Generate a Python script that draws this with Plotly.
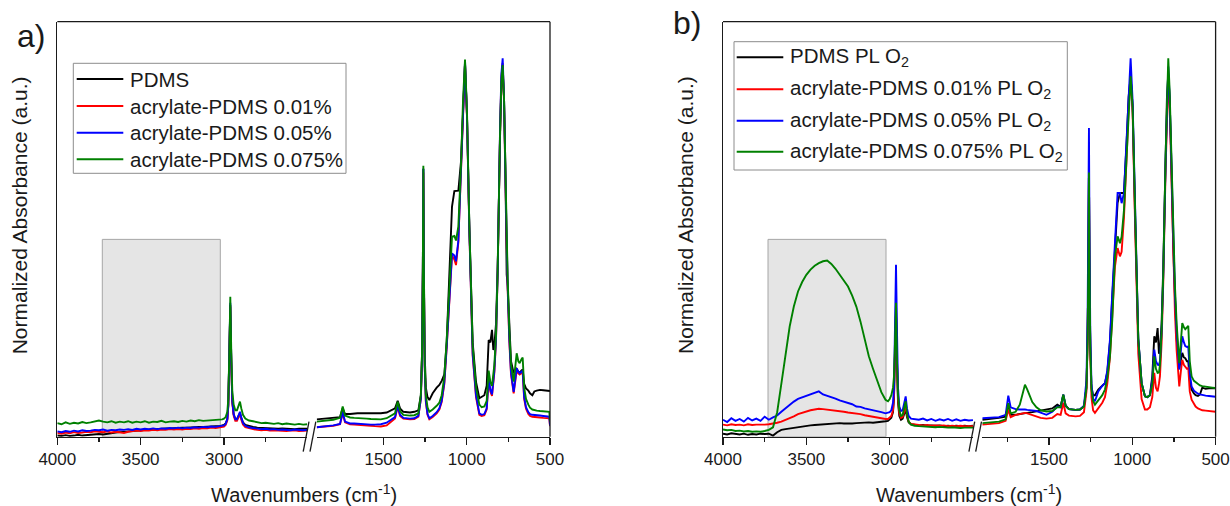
import plotly.graph_objects as go

# the page margin is removed by the post script below, so page pixels == figure pixels
OFF = 0
W, H = 1230, 506

# ---------------- data ----------------
X_LEFT = [4000, 3975, 3950, 3925, 3900, 3875, 3850, 3825, 3800, 3775,
          3750, 3725, 3700, 3675, 3650, 3625, 3600, 3575, 3550, 3525,
          3500, 3475, 3450, 3425, 3400, 3375, 3350, 3325, 3300, 3275,
          3250, 3225, 3200, 3175, 3150, 3125, 3100, 3075, 3050, 3025,
          3010, 3000, 2990, 2980, 2974, 2968, 2962, 2956, 2950, 2942,
          2932, 2922, 2912, 2904, 2896, 2886, 2872, 2850,
          2825, 2800, 2775, 2750, 2725, 2700, 2675, 2650, 2625, 2600, 2575, 2550, 2525, 2500]

X_RIGHT = [1900, 1850, 1800, 1760, 1744, 1730, 1700, 1675, 1655, 1644,
           1630, 1600, 1575, 1550, 1515, 1480, 1450, 1430, 1414, 1400,
           1380, 1340, 1314, 1290, 1275, 1268, 1263, 1260, 1257, 1252,
           1245, 1235, 1224, 1204, 1180, 1164, 1150, 1134, 1120, 1104,
           1088, 1074, 1064, 1050, 1034, 1022, 1010, 998, 984, 964,
           944, 924, 910, 894, 880, 868, 858, 848, 840, 834,
           824, 814, 800, 792, 784, 776, 768, 760, 754, 744,
           734, 718, 708, 700, 690, 682, 672, 664, 655, 644,
           630, 620, 606, 594, 580, 560, 540, 520, 504, 500]

# ---- panel a) ----
A_PDMS_L = [0.003, 0.002, 0.004, 0.002, 0.003, 0.005, 0.003, 0.004, 0.006, 0.005,
            0.007, 0.006, 0.008, 0.010, 0.011, 0.012, 0.013, 0.015, 0.014, 0.016,
            0.017, 0.018, 0.019, 0.020, 0.020, 0.021, 0.022, 0.022, 0.023, 0.023,
            0.024, 0.024, 0.025, 0.025, 0.026, 0.026, 0.027, 0.027, 0.028, 0.028,
            0.029, 0.031, 0.035, 0.047, 0.085, 0.200, 0.350, 0.200, 0.095, 0.060,
            0.047, 0.047, 0.058, 0.062, 0.050, 0.038, 0.031, 0.028,
            0.026, 0.024, 0.023, 0.023, 0.022, 0.022, 0.021, 0.022, 0.021, 0.021, 0.020, 0.021, 0.020, 0.021]
A_001_L = [0.010, 0.008, 0.011, 0.009, 0.012, 0.010, 0.011, 0.013, 0.012, 0.014,
           0.013, 0.012, 0.014, 0.011, 0.013, 0.012, 0.010, 0.013, 0.014, 0.016,
           0.015, 0.017, 0.016, 0.018, 0.017, 0.019, 0.018, 0.020, 0.019, 0.020,
           0.019, 0.021, 0.020, 0.022, 0.021, 0.023, 0.022, 0.024, 0.023, 0.025,
           0.025, 0.027, 0.031, 0.043, 0.080, 0.190, 0.345, 0.190, 0.090, 0.056,
           0.042, 0.042, 0.055, 0.060, 0.045, 0.032, 0.025, 0.022,
           0.020, 0.018, 0.017, 0.018, 0.016, 0.017, 0.016, 0.017, 0.015, 0.016, 0.017, 0.015, 0.016, 0.016]
A_005_L = [0.014, 0.012, 0.015, 0.013, 0.016, 0.014, 0.017, 0.015, 0.016, 0.018,
           0.017, 0.019, 0.016, 0.018, 0.017, 0.019, 0.018, 0.020, 0.018, 0.021,
           0.019, 0.021, 0.020, 0.022, 0.020, 0.022, 0.021, 0.023, 0.022, 0.024,
           0.022, 0.024, 0.023, 0.025, 0.024, 0.026, 0.025, 0.027, 0.026, 0.028,
           0.028, 0.030, 0.034, 0.046, 0.085, 0.200, 0.355, 0.200, 0.095, 0.060,
           0.046, 0.046, 0.060, 0.066, 0.050, 0.036, 0.029, 0.025,
           0.023, 0.021, 0.020, 0.021, 0.019, 0.020, 0.018, 0.019, 0.018, 0.017, 0.019, 0.018, 0.017, 0.018]
A_0075_L = [0.036, 0.033, 0.038, 0.034, 0.037, 0.035, 0.039, 0.036, 0.038, 0.041,
            0.043, 0.040, 0.038, 0.041, 0.037, 0.040, 0.038, 0.041, 0.037, 0.040,
            0.038, 0.041, 0.037, 0.040, 0.039, 0.042, 0.038, 0.040, 0.041, 0.039,
            0.042, 0.040, 0.043, 0.041, 0.044, 0.042, 0.043, 0.045, 0.044, 0.046,
            0.046, 0.048, 0.052, 0.065, 0.100, 0.220, 0.371, 0.220, 0.120, 0.085,
            0.070, 0.070, 0.085, 0.093, 0.075, 0.058, 0.048, 0.043,
            0.041, 0.038, 0.036, 0.037, 0.035, 0.034, 0.036, 0.033, 0.035, 0.034, 0.032, 0.034, 0.032, 0.033]

A_PDMS_R = [0.046, 0.048, 0.050, 0.052, 0.075, 0.060, 0.060, 0.062, 0.062, 0.062,
            0.062, 0.062, 0.061, 0.062, 0.062, 0.064, 0.070, 0.075, 0.095, 0.075,
            0.066, 0.064, 0.066, 0.070, 0.110, 0.220, 0.450, 0.710, 0.460, 0.220,
            0.130, 0.105, 0.097, 0.115, 0.130, 0.137, 0.148, 0.165, 0.250, 0.430,
            0.610, 0.651, 0.651, 0.652, 0.730, 0.880, 0.990, 0.850, 0.560, 0.250,
            0.145, 0.102, 0.105, 0.110, 0.135, 0.256, 0.250, 0.283, 0.230, 0.240,
            0.300, 0.450, 0.790, 0.930, 0.970, 0.900, 0.720, 0.430, 0.400, 0.280,
            0.200, 0.168, 0.175, 0.180, 0.172, 0.170, 0.175, 0.178, 0.140, 0.128,
            0.122, 0.115, 0.110, 0.120, 0.122, 0.124, 0.123, 0.123, 0.122, 0.121]
A_001_R = [0.025, 0.026, 0.029, 0.033, 0.062, 0.038, 0.033, 0.032, 0.031, 0.031,
           0.030, 0.030, 0.029, 0.028, 0.027, 0.030, 0.040, 0.048, 0.080, 0.055,
           0.048, 0.046, 0.047, 0.053, 0.100, 0.210, 0.440, 0.700, 0.440, 0.190,
           0.092, 0.058, 0.046, 0.052, 0.062, 0.072, 0.092, 0.140, 0.235, 0.375,
           0.480, 0.470, 0.455, 0.515, 0.705, 0.875, 0.990, 0.845, 0.545, 0.215,
           0.105, 0.058, 0.055, 0.057, 0.072, 0.150, 0.120, 0.108, 0.135, 0.170,
           0.255, 0.435, 0.800, 0.950, 0.990, 0.890, 0.690, 0.490, 0.390, 0.250,
           0.165, 0.115, 0.155, 0.175, 0.168, 0.165, 0.168, 0.170, 0.100, 0.074,
           0.060, 0.055, 0.053, 0.052, 0.051, 0.051, 0.050, 0.050, 0.049, 0.028]
A_005_R = [0.025, 0.027, 0.030, 0.034, 0.066, 0.040, 0.035, 0.035, 0.034, 0.034,
           0.033, 0.033, 0.032, 0.032, 0.033, 0.037, 0.045, 0.052, 0.082, 0.058,
           0.050, 0.048, 0.049, 0.055, 0.100, 0.210, 0.440, 0.710, 0.440, 0.190,
           0.095, 0.060, 0.049, 0.055, 0.065, 0.075, 0.095, 0.145, 0.240, 0.380,
           0.486, 0.480, 0.465, 0.520, 0.710, 0.880, 0.995, 0.850, 0.550, 0.220,
           0.110, 0.062, 0.058, 0.060, 0.075, 0.155, 0.125, 0.112, 0.140, 0.175,
           0.260, 0.440, 0.810, 0.960, 1.003, 0.900, 0.700, 0.500, 0.400, 0.260,
           0.170, 0.119, 0.160, 0.181, 0.172, 0.168, 0.172, 0.175, 0.105, 0.078,
           0.065, 0.060, 0.058, 0.057, 0.056, 0.056, 0.055, 0.054, 0.053, 0.030]
A_0075_R = [0.040, 0.042, 0.045, 0.050, 0.080, 0.056, 0.051, 0.050, 0.050, 0.050,
            0.049, 0.048, 0.047, 0.046, 0.046, 0.049, 0.056, 0.062, 0.093, 0.068,
            0.058, 0.056, 0.057, 0.062, 0.110, 0.220, 0.450, 0.718, 0.450, 0.200,
            0.110, 0.078, 0.066, 0.072, 0.082, 0.090, 0.110, 0.160, 0.256, 0.400,
            0.530, 0.532, 0.520, 0.557, 0.720, 0.890, 1.000, 0.860, 0.560, 0.240,
            0.130, 0.085, 0.078, 0.080, 0.095, 0.175, 0.145, 0.135, 0.160, 0.190,
            0.270, 0.440, 0.800, 0.940, 0.985, 0.900, 0.720, 0.520, 0.420, 0.280,
            0.190, 0.146, 0.190, 0.221, 0.200, 0.195, 0.205, 0.210, 0.130, 0.100,
            0.085, 0.077, 0.072, 0.070, 0.069, 0.068, 0.067, 0.066, 0.066, 0.040]

# ---- panel b) ----
B_PDMS_L = [0.008, 0.006, 0.009, 0.007, 0.006, 0.008, 0.005, 0.007, 0.006, 0.008,
            0.007, 0.008, 0.003, 0.012, 0.018, 0.020, 0.022, 0.024, 0.026, 0.027,
            0.028, 0.030, 0.031, 0.032, 0.033, 0.034, 0.035, 0.036, 0.036, 0.035,
            0.034, 0.035, 0.036, 0.037, 0.037, 0.038, 0.037, 0.039, 0.040, 0.041,
            0.042, 0.045, 0.050, 0.065, 0.100, 0.220, 0.330, 0.190, 0.090, 0.055,
            0.045, 0.048, 0.065, 0.072, 0.052, 0.038, 0.033, 0.031,
            0.030, 0.031, 0.029, 0.030, 0.029, 0.030, 0.028, 0.029, 0.028, 0.029, 0.028, 0.029, 0.028, 0.029]
B_001_L = [0.032, 0.030, 0.033, 0.031, 0.032, 0.030, 0.033, 0.031, 0.032, 0.031,
           0.032, 0.033, 0.034, 0.037, 0.040, 0.044, 0.048, 0.054, 0.060, 0.064,
           0.067, 0.070, 0.072, 0.074, 0.073, 0.072, 0.070, 0.069, 0.068, 0.066,
           0.064, 0.063, 0.062, 0.060, 0.057, 0.055, 0.053, 0.050, 0.048, 0.047,
           0.047, 0.050, 0.055, 0.070, 0.110, 0.230, 0.340, 0.200, 0.100, 0.062,
           0.050, 0.052, 0.070, 0.080, 0.058, 0.040, 0.034, 0.032,
           0.031, 0.030, 0.031, 0.029, 0.030, 0.029, 0.030, 0.028, 0.029, 0.028, 0.029, 0.028, 0.027, 0.028]
B_005_L = [0.045, 0.039, 0.049, 0.042, 0.047, 0.040, 0.050, 0.043, 0.048, 0.042,
           0.053, 0.045, 0.051, 0.056, 0.066, 0.075, 0.085, 0.093, 0.100, 0.104,
           0.110, 0.114, 0.116, 0.120, 0.112, 0.109, 0.104, 0.101, 0.096, 0.093,
           0.088, 0.086, 0.080, 0.079, 0.075, 0.073, 0.070, 0.067, 0.065, 0.062,
           0.063, 0.065, 0.070, 0.090, 0.130, 0.300, 0.456, 0.280, 0.130, 0.080,
           0.068, 0.070, 0.090, 0.107, 0.075, 0.055, 0.048, 0.046,
           0.045, 0.048, 0.043, 0.047, 0.042, 0.046, 0.043, 0.047, 0.042, 0.046, 0.042, 0.045, 0.043, 0.044]
B_0075_L = [0.019, 0.017, 0.018, 0.015, 0.016, 0.014, 0.015, 0.013, 0.014, 0.013,
            0.015, 0.018, 0.025, 0.065, 0.140, 0.220, 0.292, 0.345, 0.385, 0.410,
            0.429, 0.443, 0.453, 0.460, 0.465, 0.467, 0.458, 0.445, 0.430, 0.416,
            0.398, 0.374, 0.345, 0.305, 0.262, 0.213, 0.180, 0.148, 0.118, 0.098,
            0.094, 0.100, 0.110, 0.130, 0.160, 0.250, 0.355, 0.200, 0.110, 0.070,
            0.055, 0.058, 0.080, 0.094, 0.060, 0.040, 0.032, 0.029,
            0.028, 0.027, 0.026, 0.027, 0.025, 0.026, 0.025, 0.024, 0.025, 0.024, 0.023, 0.024, 0.023, 0.024]

B_PDMS_R = [0.045, 0.047, 0.050, 0.053, 0.085, 0.058, 0.058, 0.060, 0.062, 0.062,
            0.063, 0.065, 0.067, 0.070, 0.072, 0.075, 0.085, 0.080, 0.111, 0.082,
            0.073, 0.071, 0.072, 0.080, 0.130, 0.260, 0.480, 0.700, 0.470, 0.240,
            0.130, 0.110, 0.110, 0.125, 0.135, 0.142, 0.170, 0.250, 0.370, 0.500,
            0.620, 0.646, 0.646, 0.646, 0.780, 0.900, 0.955, 0.875, 0.600, 0.260,
            0.142, 0.107, 0.105, 0.110, 0.160, 0.266, 0.250, 0.288, 0.220, 0.230,
            0.300, 0.450, 0.740, 0.900, 0.960, 0.900, 0.770, 0.600, 0.500, 0.370,
            0.260, 0.182, 0.200, 0.222, 0.210, 0.208, 0.200, 0.200, 0.150, 0.125,
            0.115, 0.110, 0.108, 0.112, 0.130, 0.127, 0.128, 0.129, 0.129, 0.128]
B_001_R = [0.032, 0.033, 0.036, 0.042, 0.072, 0.052, 0.058, 0.060, 0.062, 0.063,
           0.062, 0.058, 0.053, 0.050, 0.048, 0.050, 0.060, 0.058, 0.090, 0.062,
           0.056, 0.054, 0.055, 0.065, 0.120, 0.260, 0.480, 0.700, 0.460, 0.220,
           0.105, 0.070, 0.063, 0.075, 0.090, 0.105, 0.140, 0.210, 0.320, 0.451,
           0.500, 0.478, 0.490, 0.580, 0.740, 0.870, 0.950, 0.860, 0.580, 0.220,
           0.100, 0.072, 0.072, 0.078, 0.105, 0.169, 0.130, 0.120, 0.140, 0.160,
           0.250, 0.410, 0.710, 0.870, 0.950, 0.880, 0.740, 0.570, 0.460, 0.330,
           0.230, 0.133, 0.175, 0.204, 0.190, 0.185, 0.180, 0.182, 0.120, 0.098,
           0.085, 0.080, 0.075, 0.072, 0.070, 0.069, 0.068, 0.067, 0.067, 0.066]
B_005_R = [0.049, 0.050, 0.052, 0.058, 0.109, 0.078, 0.073, 0.072, 0.073, 0.072,
           0.071, 0.070, 0.068, 0.064, 0.058, 0.066, 0.080, 0.078, 0.111, 0.082,
           0.073, 0.071, 0.072, 0.082, 0.150, 0.320, 0.580, 0.818, 0.560, 0.280,
           0.140, 0.100, 0.094, 0.120, 0.135, 0.142, 0.175, 0.257, 0.380, 0.522,
           0.646, 0.646, 0.619, 0.646, 0.800, 0.930, 1.003, 0.890, 0.620, 0.260,
           0.142, 0.107, 0.105, 0.110, 0.150, 0.231, 0.200, 0.191, 0.190, 0.200,
           0.280, 0.430, 0.730, 0.890, 0.981, 0.900, 0.770, 0.600, 0.500, 0.380,
           0.280, 0.178, 0.230, 0.266, 0.250, 0.240, 0.238, 0.239, 0.170, 0.133,
           0.122, 0.118, 0.114, 0.112, 0.110, 0.109, 0.108, 0.107, 0.107, 0.106]
B_0075_R = [0.036, 0.038, 0.040, 0.046, 0.089, 0.062, 0.066, 0.085, 0.125, 0.138,
            0.125, 0.092, 0.078, 0.070, 0.067, 0.068, 0.078, 0.078, 0.111, 0.082,
            0.073, 0.071, 0.072, 0.080, 0.130, 0.260, 0.480, 0.700, 0.470, 0.240,
            0.125, 0.095, 0.085, 0.095, 0.110, 0.125, 0.155, 0.213, 0.310, 0.478,
            0.531, 0.513, 0.530, 0.600, 0.750, 0.880, 0.955, 0.875, 0.610, 0.257,
            0.142, 0.107, 0.105, 0.110, 0.140, 0.213, 0.180, 0.169, 0.170, 0.190,
            0.280, 0.434, 0.743, 0.900, 1.003, 0.920, 0.787, 0.620, 0.522, 0.400,
            0.301, 0.195, 0.255, 0.301, 0.290, 0.285, 0.290, 0.294, 0.200, 0.160,
            0.148, 0.144, 0.140, 0.136, 0.134, 0.132, 0.131, 0.130, 0.129, 0.128]

NAMES_A = ["PDMS", "acrylate-PDMS 0.01%", "acrylate-PDMS 0.05%", "acrylate-PDMS 0.075%"]
NAMES_B = ["PDMS PL O<sub>2</sub>", "acrylate-PDMS 0.01% PL O<sub>2</sub>",
           "acrylate-PDMS 0.05% PL O<sub>2</sub>", "acrylate-PDMS 0.075% PL O<sub>2</sub>"]
COLORS = ["#000000", "#ff0000", "#0000ff", "#008000"]

LEFT_TICKS = [4000, 3500, 3000]
LEFT_MINOR = [3750, 3250, 2750]
RIGHT_TICKS = [1500, 1000, 500]
RIGHT_MINOR = [1750, 1250, 750]
SHADE_X = [3730, 3022]
SHADE_TOP = 0.523

for arr in [A_PDMS_L, A_001_L, A_005_L, A_0075_L, B_PDMS_L, B_001_L, B_005_L, B_0075_L]:
    assert len(arr) == len(X_LEFT), len(arr)
for arr in [A_PDMS_R, A_001_R, A_005_R, A_0075_R, B_PDMS_R, B_001_R, B_005_R, B_0075_R]:
    assert len(arr) == len(X_RIGHT), len(arr)


# ---------------- layout geometry (page pixels -> paper fractions) ----------------
def px(x):
    return (x - OFF) / W


def py(y):
    return 1 - (y - OFF) / H


FONT = "Liberation Sans, Arial, Helvetica, sans-serif"
INK = "#1a1a1a"
Y_TOP, Y_BOT = 21.7, 436.7
PANELS = [
    dict(l0=57.3, l1=307.3, r0=316.7, r1=550.0),
    dict(l0=723.0, l1=973.0, r0=982.3, r1=1215.6),
]

fig = go.Figure()

data_a = [(A_PDMS_L, A_PDMS_R), (A_001_L, A_001_R), (A_005_L, A_005_R), (A_0075_L, A_0075_R)]
data_b = [(B_PDMS_L, B_PDMS_R), (B_001_L, B_001_R), (B_005_L, B_005_R), (B_0075_L, B_0075_R)]

for p, (data, names) in enumerate([(data_a, NAMES_A), (data_b, NAMES_B)]):
    xl = "x" if p == 0 else "x3"
    xr = "x2" if p == 0 else "x4"
    ya = "y" if p == 0 else "y2"
    for (yl, yr), name, col in zip(data, names, COLORS):
        fig.add_trace(go.Scatter(x=X_LEFT, y=yl, xaxis=xl, yaxis=ya, mode="lines",
                                 line=dict(color=col, width=1.9), name=name, showlegend=False))
        fig.add_trace(go.Scatter(x=X_RIGHT, y=yr, xaxis=xr, yaxis=ya, mode="lines",
                                 line=dict(color=col, width=1.9), name=name, showlegend=False))

axis_common = dict(showgrid=False, zeroline=False, showline=True, linecolor=INK, linewidth=1.3,
                   ticks="outside", ticklen=7, tickwidth=1.3, tickcolor=INK, automargin=False,
                   tickfont=dict(family=FONT, size=17, color=INK), fixedrange=True)

layout = dict(template="none", width=W, height=H,
              margin=dict(l=0, r=0, t=0, b=0, pad=0, autoexpand=False),
              paper_bgcolor="white", plot_bgcolor="white", showlegend=False,
              hovermode=False)

for p, pan in enumerate(PANELS):
    n = 2 * p
    kl = "xaxis" if n == 0 else f"xaxis{n + 1}"
    kr = f"xaxis{n + 2}"
    yk = "yaxis" if p == 0 else "yaxis2"
    yname = "y" if p == 0 else "y2"
    layout[kl] = dict(axis_common, domain=[px(pan["l0"]), px(pan["l1"])], range=[4000, 2500],
                      anchor=yname, tickmode="array", tickvals=LEFT_TICKS,
                      ticktext=[str(v) for v in LEFT_TICKS],
                      minor=dict(tickmode="array", tickvals=LEFT_MINOR, ticks="outside",
                                 ticklen=4, tickwidth=1.3, tickcolor=INK))
    layout[kr] = dict(axis_common, domain=[px(pan["r0"]), px(pan["r1"])], range=[1900, 500],
                      anchor=yname, tickmode="array", tickvals=RIGHT_TICKS,
                      ticktext=[str(v) for v in RIGHT_TICKS],
                      minor=dict(tickmode="array", tickvals=RIGHT_MINOR, ticks="outside",
                                 ticklen=4, tickwidth=1.3, tickcolor=INK))
    layout[yk] = dict(domain=[py(Y_BOT), py(Y_TOP)], range=[0, 1.1], showgrid=False, zeroline=False,
                      showline=True, linecolor=INK, linewidth=1.3, ticks="", showticklabels=False,
                      automargin=False, anchor="x" if p == 0 else "x3", fixedrange=True)

fig.update_layout(**layout)

shapes = []
annotations = []
for p, pan in enumerate(PANELS):
    xl = "x" if p == 0 else "x3"
    yname = "y" if p == 0 else "y2"
    # shaded region
    shapes.append(dict(type="rect", xref=xl, yref=yname, x0=SHADE_X[0], x1=SHADE_X[1], y0=0, y1=SHADE_TOP,
                       fillcolor="#e5e5e5", line=dict(color="#a6a6a6", width=1), layer="below"))
    # frame: top and right
    shapes.append(dict(type="line", xref="paper", yref="paper", x0=px(pan["l0"]), x1=px(pan["r1"]),
                       y0=py(Y_TOP), y1=py(Y_TOP), line=dict(color=INK, width=1.3)))
    shapes.append(dict(type="line", xref="paper", yref="paper", x0=px(pan["r1"]), x1=px(pan["r1"]),
                       y0=py(Y_TOP), y1=py(Y_BOT), line=dict(color=INK, width=1.3)))
    # axis break marks
    for c in (pan["l1"] - 1.2, pan["l1"] + 5.6):
        shapes.append(dict(type="line", xref="paper", yref="paper", x0=px(c - 2.9), x1=px(c + 2.9),
                           y0=py(Y_BOT + 15), y1=py(Y_BOT - 15), line=dict(color=INK, width=1.3)))
    # axis titles
    cx = (pan["l0"] + pan["r1"]) / 2
    annotations.append(dict(xref="paper", yref="paper", x=px(cx), y=py(493), xanchor="center",
                            yanchor="middle", showarrow=False, text="Wavenumbers (cm<sup>-1</sup>)",
                            font=dict(family=FONT, size=20, color=INK)))
    annotations.append(dict(xref="paper", yref="paper", x=px(pan["l0"] - 38), y=py(215), xanchor="center",
                            yanchor="middle", showarrow=False, textangle=-90,
                            text="Normalized Absorbance (a.u.)",
                            font=dict(family=FONT, size=21, color=INK)))

# panel labels
annotations.append(dict(xref="paper", yref="paper", x=px(31), y=py(36), xanchor="center", yanchor="middle",
                        showarrow=False, text="a)", font=dict(family=FONT, size=32, color=INK)))
annotations.append(dict(xref="paper", yref="paper", x=px(687), y=py(23), xanchor="center", yanchor="middle",
                        showarrow=False, text="b)", font=dict(family=FONT, size=32, color=INK)))

# legends (drawn as shapes + text)
LEGENDS = [
    dict(box=(73.3, 63.3, 346.0, 173.3), line=(76.7, 123.3), tx=128.3, rows=[79, 106, 132.7, 159.3], names=NAMES_A),
    dict(box=(734.0, 41.7, 1067.3, 170.0), line=(736.7, 783.3), tx=788.3, rows=[57.3, 89.3, 120.7, 151.7], names=NAMES_B),
]
for lg in LEGENDS:
    x0, y0, x1, y1 = lg["box"]
    shapes.append(dict(type="rect", xref="paper", yref="paper", x0=px(x0), x1=px(x1), y0=py(y1), y1=py(y0),
                       fillcolor="rgba(255,255,255,0)", line=dict(color="#8c8c8c", width=1)))
    for ry, name, col in zip(lg["rows"], lg["names"], COLORS):
        shapes.append(dict(type="line", xref="paper", yref="paper", x0=px(lg["line"][0]), x1=px(lg["line"][1]),
                           y0=py(ry), y1=py(ry), line=dict(color=col, width=2)))
        annotations.append(dict(xref="paper", yref="paper", x=px(lg["tx"]), y=py(ry), xanchor="left",
                                yanchor="middle", showarrow=False, text=name,
                                font=dict(family=FONT, size=20.5, color=INK)))

fig.update_layout(shapes=shapes, annotations=annotations)
# drop the browser's default page margin so the figure fills the 1230x506 window exactly
fig.write_html("out.html",
               config={"displayModeBar": False, "staticPlot": True},
               post_script="document.body.style.margin='0';"
                           "document.documentElement.style.overflow='hidden';"
                           "document.body.style.overflow='hidden';")
